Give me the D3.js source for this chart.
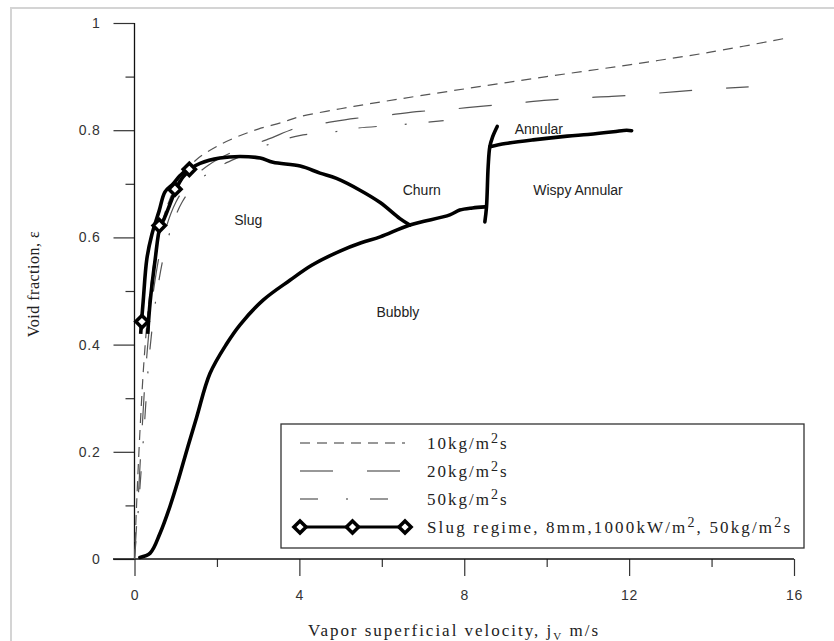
<!DOCTYPE html>
<html>
<head>
<meta charset="utf-8">
<script src="https://cdn.jsdelivr.net/npm/d3@7"></script>
<style>
  body { margin: 0; background: #fff; }
  svg { display: block; }
</style>
</head>
<body>
<script>
// ---------- data ----------
const xMajorTicks = [0, 4, 8, 12, 16];
const xMinorTicks = [2, 6, 10, 14];
const yMajorTicks = [0, 0.2, 0.4, 0.6, 0.8, 1];
const yMinorTicks = [0.1, 0.3, 0.5, 0.7, 0.9];

const flux10 = [[0,0],[0.05,0.1],[0.14,0.25],[0.24,0.38],[0.38,0.5],[0.58,0.6],[0.85,0.67],[1.15,0.715],[1.5,0.745],[2.0,0.77],[2.5,0.788],[3.0,0.802],[3.6,0.815],[4.0,0.825],[5.0,0.84],[6.0,0.853],[8.0,0.877],[10.0,0.9],[12.0,0.922],[14.0,0.946],[15.9,0.973]];
const flux20 = [[0,0],[0.08,0.1],[0.19,0.25],[0.3,0.38],[0.46,0.5],[0.7,0.6],[1.0,0.665],[1.35,0.705],[1.8,0.735],[2.4,0.76],[3.2,0.782],[4.0,0.806],[4.5,0.812],[5.35,0.822],[6.12,0.828],[6.93,0.835],[7.65,0.839],[8.46,0.845],[9.19,0.85],[10.03,0.856],[10.76,0.86],[11.58,0.863],[12.34,0.867],[13.15,0.872],[13.88,0.876],[14.9,0.881]];
const flux50 = [[0,0],[0.1,0.1],[0.24,0.25],[0.36,0.38],[0.55,0.5],[0.82,0.6],[1.15,0.665],[1.55,0.705],[2.0,0.73],[2.6,0.752],[3.2,0.772],[4.0,0.79],[4.78,0.796],[5.3,0.803],[6.44,0.81],[6.97,0.814],[7.5,0.818]];

const slugLeft = [[0.15,0.42],[0.17,0.443],[0.21,0.48],[0.3,0.56],[0.42,0.605],[0.6,0.65],[0.74,0.685],[0.94,0.7],[1.1,0.715],[1.3,0.729]];
const slugRight = [[0.32,0.42],[0.38,0.48],[0.5,0.558],[0.62,0.62],[0.72,0.635],[0.85,0.66],[0.98,0.685],[1.15,0.71],[1.35,0.726]];
const slugMarkers = [[0.18,0.443],[0.6,0.622],[0.98,0.69],[1.33,0.727]];

const slugChurnBoundary = [[1.33,0.727],[1.59,0.738],[2.07,0.748],[2.56,0.751],[3.05,0.748],[3.36,0.74],[4.02,0.733],[4.5,0.72],[4.9,0.71],[5.47,0.688],[5.96,0.665],[6.44,0.635],[6.68,0.623]];
const bubblyBoundary = [[0.13,0.003],[0.38,0.011],[0.62,0.048],[0.86,0.098],[1.06,0.147],[1.27,0.203],[1.51,0.265],[1.83,0.346],[2.24,0.402],[2.56,0.437],[3.12,0.483],[3.77,0.52],[4.3,0.548],[5.0,0.575],[5.5,0.59],[5.96,0.601],[6.68,0.623],[7.65,0.642],[7.89,0.651],[8.2,0.655],[8.5,0.657]];
const wispyBoundary = [[8.5,0.629],[8.54,0.657],[8.58,0.732],[8.62,0.769],[8.69,0.788],[8.8,0.807]];
const annularBoundary = [[8.62,0.769],[9.0,0.775],[9.67,0.782],[10.5,0.789],[11.0,0.792],[11.62,0.797],[11.94,0.80],[12.06,0.799]];

const regionLabels = ["Slug", "Churn", "Wispy Annular", "Annular", "Bubbly"];
const regionPos = [[2.76,0.632],[6.97,0.688],[10.76,0.688],[9.81,0.802],[6.39,0.461]];

const legendLabels = ["10kg/m", "20kg/m", "50kg/m"];

// ---------- chart ----------
const W = 834, H = 641;
const svg = d3.select("body").append("svg").attr("width", W).attr("height", H);

// outer frame
svg.append("rect").attr("x", 11).attr("y", 8).attr("width", 860).attr("height", 700)
  .attr("fill", "none").attr("stroke", "#d4d4d4").attr("stroke-width", 2);

const x = d3.scaleLinear().domain([0, 16]).range([134.5, 794]);
const y = d3.scaleLinear().domain([0, 1]).range([559, 23]);

const axisColor = "#333";
const labelFont = "Arial, 'Liberation Sans', sans-serif";
const serif = "'Liberation Serif', 'Times New Roman', serif";

// y axis
const gy = svg.append("g").attr("transform", `translate(${x(0)},0)`);
gy.call(d3.axisLeft(y).tickValues(yMajorTicks).tickSize(21).tickPadding(13).tickFormat(d => d3.format("~g")(d)))
  .call(g => g.select(".domain").remove());
gy.selectAll(".tick line").attr("stroke", axisColor).attr("stroke-width", 1.2);
gy.selectAll(".tick text").attr("font-family", labelFont).attr("font-size", 14).attr("fill", "#333").attr("letter-spacing", 0.8);
const gyMinor = svg.append("g").attr("transform", `translate(${x(0)},0)`);
gyMinor.call(d3.axisLeft(y).tickValues(yMinorTicks).tickSize(9).tickFormat(""))
  .call(g => g.select(".domain").remove());
gyMinor.selectAll(".tick line").attr("stroke", axisColor).attr("stroke-width", 1.2);
svg.append("line").attr("x1", x(0)).attr("x2", x(0)).attr("y1", y(0)).attr("y2", y(1))
  .attr("stroke", "#111").attr("stroke-width", 1.3);

// x axis
const gx = svg.append("g").attr("transform", `translate(0,${y(0)})`);
gx.call(d3.axisBottom(x).tickValues(xMajorTicks).tickSize(17).tickPadding(14))
  .call(g => g.select(".domain").remove());
gx.selectAll(".tick line").attr("stroke", axisColor).attr("stroke-width", 1.2);
gx.selectAll(".tick text").attr("font-family", labelFont).attr("font-size", 14).attr("fill", "#333").attr("letter-spacing", 0.8);
const gxMinor = svg.append("g").attr("transform", `translate(0,${y(0)})`);
gxMinor.call(d3.axisBottom(x).tickValues(xMinorTicks).tickSize(8).tickFormat(""))
  .call(g => g.select(".domain").remove());
gxMinor.selectAll(".tick line").attr("stroke", axisColor).attr("stroke-width", 1.2);
svg.append("line").attr("x1", 113).attr("x2", x(16)).attr("y1", y(0)).attr("y2", y(0))
  .attr("stroke", "#111").attr("stroke-width", 1.3);

// axis titles
svg.append("text")
  .attr("transform", `translate(39,${(y(0) + y(1)) / 2 - 7}) rotate(-90)`)
  .attr("text-anchor", "middle").attr("font-family", serif).attr("font-size", 16)
  .attr("fill", "#222").attr("letter-spacing", 0.5)
  .text("Void fraction, \u03b5");

const xt = svg.append("text").attr("x", 308).attr("y", 636)
  .attr("font-family", serif).attr("font-size", 17).attr("fill", "#222")
  .attr("textLength", 290).attr("lengthAdjust", "spacing");
xt.append("tspan").text("Vapor superficial velocity, j");
xt.append("tspan").attr("font-size", 11).attr("dy", 4).text("V");
xt.append("tspan").attr("dy", -4).text(" m/s");

// curves
const line = d3.line().x(d => x(d[0])).y(d => y(d[1])).curve(d3.curveCatmullRom.alpha(0.5));
const plot = svg.append("g");

const fluxStyles = [
  { data: flux10, dash: "10,7" },
  { data: flux20, dash: "33,34" },
  { data: flux50, dash: "18,28,2,22" }
];
fluxStyles.forEach(s => {
  plot.append("path").attr("d", line(s.data)).attr("fill", "none")
    .attr("stroke", "#555").attr("stroke-width", 1.2).attr("stroke-dasharray", s.dash);
});

[bubblyBoundary, slugChurnBoundary, wispyBoundary, annularBoundary].forEach(d => {
  plot.append("path").attr("d", line(d)).attr("fill", "none")
    .attr("stroke", "#000").attr("stroke-width", 3.6).attr("stroke-linejoin", "round").attr("stroke-linecap", "round");
});
[slugLeft, slugRight].forEach(d => {
  plot.append("path").attr("d", line(d)).attr("fill", "none")
    .attr("stroke", "#000").attr("stroke-width", 3.6).attr("stroke-linejoin", "round");
});

const diamond = d3.symbol().type(d3.symbolDiamond2).size(95);
plot.selectAll("path.mk").data(slugMarkers).join("path").attr("class", "mk")
  .attr("d", diamond).attr("transform", d => `translate(${x(d[0])},${y(d[1])})`)
  .attr("fill", "#fff").attr("stroke", "#000").attr("stroke-width", 3.5);

// region labels
svg.append("g").selectAll("text").data(regionLabels).join("text")
  .attr("x", (d, i) => x(regionPos[i][0])).attr("y", (d, i) => y(regionPos[i][1]))
  .attr("dy", "0.35em").attr("text-anchor", "middle")
  .attr("font-family", labelFont).attr("font-size", 14).attr("fill", "#222")
  .text(d => d);

// legend
const lg = svg.append("g");
lg.append("rect").attr("x", 281).attr("y", 424).attr("width", 523).attr("height", 124)
  .attr("fill", "#fff").attr("stroke", "#333").attr("stroke-width", 1.3);
const rowY = [443, 471, 499, 527];
const sx1 = 300, sx2 = 405, tx = 427;
fluxStyles.forEach((s, i) => {
  lg.append("line").attr("x1", sx1).attr("x2", sx2).attr("y1", rowY[i]).attr("y2", rowY[i])
    .attr("stroke", "#333").attr("stroke-width", 1.2).attr("stroke-dasharray", s.dash);
  const t = lg.append("text").attr("x", tx).attr("y", rowY[i] + 6)
    .attr("font-family", serif).attr("font-size", 17).attr("fill", "#222").attr("letter-spacing", 2);
  t.append("tspan").text(legendLabels[i]);
  t.append("tspan").attr("font-size", 14).attr("dy", -6).text("2");
  t.append("tspan").attr("dy", 6).text("s");
});
lg.append("line").attr("x1", sx1).attr("x2", sx2).attr("y1", rowY[3]).attr("y2", rowY[3])
  .attr("stroke", "#000").attr("stroke-width", 3);
lg.selectAll("path.lm").data([sx1, (sx1 + sx2) / 2, sx2]).join("path").attr("class", "lm")
  .attr("d", diamond).attr("transform", d => `translate(${d},${rowY[3]})`)
  .attr("fill", "#fff").attr("stroke", "#000").attr("stroke-width", 3.5);
const st = lg.append("text").attr("x", tx).attr("y", rowY[3] + 6)
  .attr("font-family", serif).attr("font-size", 17).attr("fill", "#222")
  .attr("textLength", 363).attr("lengthAdjust", "spacing");
st.append("tspan").text("Slug regime, 8mm,1000kW/m");
st.append("tspan").attr("font-size", 14).attr("dy", -6).text("2");
st.append("tspan").attr("dy", 6).text(", 50kg/m");
st.append("tspan").attr("font-size", 14).attr("dy", -6).text("2");
st.append("tspan").attr("dy", 6).text("s");
</script>
</body>
</html>
